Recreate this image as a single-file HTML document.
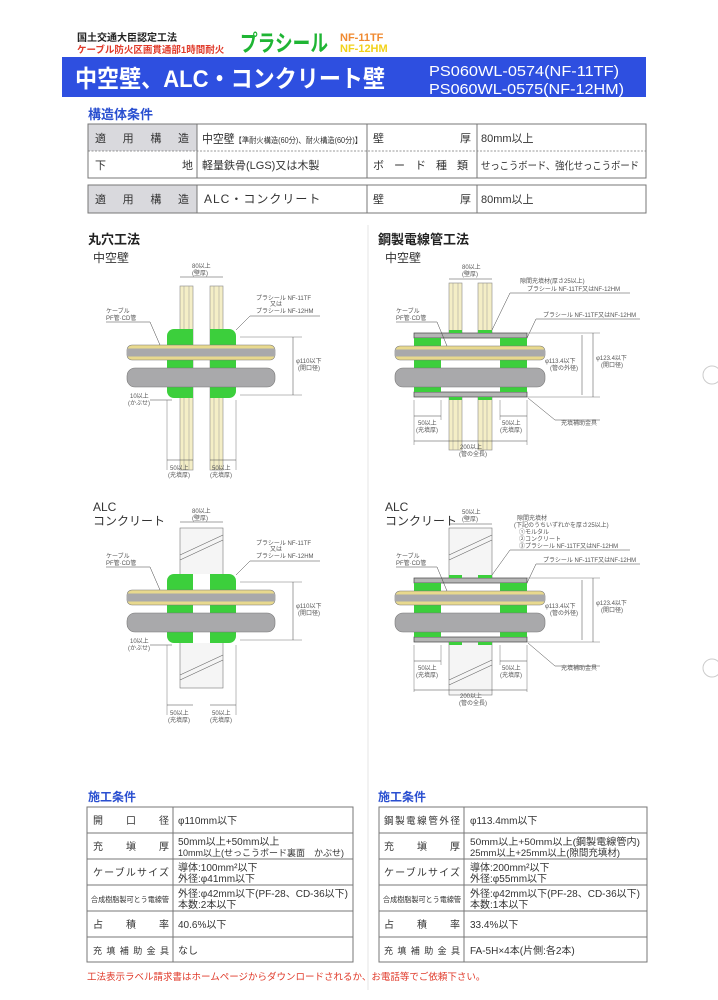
<!DOCTYPE html>
<html><head><meta charset="utf-8"><style>
html,body{margin:0;padding:0;background:#fff;}
svg{display:block;}
text{font-family:"Liberation Sans","Noto Sans CJK JP",sans-serif;}
</style></head><body>
<svg width="718" height="1000" viewBox="0 0 718 1000" xmlns="http://www.w3.org/2000/svg">
<defs>
<g id="roundCables">
  <rect x="127" y="345" width="148" height="15" rx="5" fill="#e8d98e" stroke="#777" stroke-width="0.6"/>
  <rect x="127" y="348.5" width="148" height="8" fill="#a9a9ab"/>
  <rect x="127" y="368" width="148" height="19" rx="8" fill="#a9a9ab" stroke="#777" stroke-width="0.6"/>
</g>
<g id="steelCables">
  <rect x="395" y="346" width="150" height="14" rx="5" fill="#e8d98e" stroke="#777" stroke-width="0.6"/>
  <rect x="395" y="349.5" width="150" height="7" fill="#a9a9ab"/>
  <rect x="395" y="368" width="150" height="19" rx="8" fill="#a9a9ab" stroke="#777" stroke-width="0.6"/>
</g>
<g id="steelPipe">
  <rect x="414" y="333" width="113" height="5" fill="#b5b5b5" stroke="#444" stroke-width="0.7"/>
  <rect x="414" y="392" width="113" height="5" fill="#b5b5b5" stroke="#444" stroke-width="0.7"/>
  <rect x="414" y="338" width="27" height="54" fill="#3ccf3c"/>
  <rect x="500" y="338" width="27" height="54" fill="#3ccf3c"/>
  <rect x="449" y="330" width="13" height="3" fill="#3ccf3c"/>
  <rect x="478" y="330" width="14" height="3" fill="#3ccf3c"/>
  <rect x="449" y="397" width="13" height="3" fill="#3ccf3c"/>
  <rect x="478" y="397" width="14" height="3" fill="#3ccf3c"/>
</g>
</defs>

<!-- Header -->
<text x="77" y="41" font-size="10" font-weight="bold" fill="#222">国土交通大臣認定工法</text>
<text x="77" y="53" font-size="9.5" font-weight="bold" fill="#e03a2a">ケーブル防火区画貫通部1時間耐火</text>
<text x="240" y="51" font-size="23" font-weight="bold" fill="#1fb534" textLength="88" lengthAdjust="spacingAndGlyphs">プラシール</text>
<text x="340" y="41" font-size="11" font-weight="bold" fill="#f08a30">NF-11TF</text>
<text x="340" y="52" font-size="11" font-weight="bold" fill="#f2d21a">NF-12HM</text>

<rect x="62" y="57" width="584" height="40" fill="#2e4fe0"/>
<text x="75" y="87" font-size="24" font-weight="bold" fill="#fff" textLength="310" lengthAdjust="spacingAndGlyphs">中空壁、ALC・コンクリート壁</text>
<text x="429" y="76" font-size="15" fill="#fff" textLength="190" lengthAdjust="spacingAndGlyphs">PS060WL-0574(NF-11TF)</text>
<text x="429" y="94" font-size="15" fill="#fff" textLength="195" lengthAdjust="spacingAndGlyphs">PS060WL-0575(NF-12HM)</text>

<text x="88" y="119" font-size="13" font-weight="bold" fill="#2a4fd0">構造体条件</text>

<!-- Table 1 -->
<rect x="88" y="124" width="109" height="27" fill="#d9d9dd"/>
<rect x="88" y="124" width="558" height="54" fill="none" stroke="#777" stroke-width="1"/>
<line x1="88" y1="151" x2="646" y2="151" stroke="#777" stroke-dasharray="2,1.5" stroke-width="0.8"/>
<line x1="197" y1="124" x2="197" y2="178" stroke="#777"/>
<line x1="367" y1="124" x2="367" y2="178" stroke="#777"/>
<line x1="477" y1="124" x2="477" y2="178" stroke="#777"/>
<text x="95" y="142" font-size="11" fill="#333" textLength="94" lengthAdjust="spacing">適　用　構　造</text>
<text x="202" y="143" font-size="12" fill="#333" textLength="160" lengthAdjust="spacingAndGlyphs">中空壁<tspan font-size="8">【準耐火構造(60分)、耐火構造(60分)】</tspan></text>
<text x="373" y="142" font-size="11" fill="#333">壁</text>
<text x="460" y="142" font-size="11" fill="#333">厚</text>
<text x="481" y="142" font-size="11" fill="#333">80mm以上</text>
<text x="95" y="169" font-size="11" fill="#333">下</text>
<text x="182" y="169" font-size="11" fill="#333">地</text>
<text x="202" y="169" font-size="11" fill="#333">軽量鉄骨(LGS)又は木製</text>
<text x="373" y="169" font-size="11" fill="#333" textLength="95" lengthAdjust="spacing">ボ ー ド 種 類</text>
<text x="481" y="169" font-size="10.5" fill="#333" textLength="158" lengthAdjust="spacingAndGlyphs">せっこうボード、強化せっこうボード</text>

<rect x="88" y="185" width="109" height="28" fill="#d9d9dd"/>
<rect x="88" y="185" width="558" height="28" fill="none" stroke="#777"/>
<line x1="197" y1="185" x2="197" y2="213" stroke="#777"/>
<line x1="367" y1="185" x2="367" y2="213" stroke="#777"/>
<line x1="477" y1="185" x2="477" y2="213" stroke="#777"/>
<text x="95" y="203" font-size="11" fill="#333" textLength="94" lengthAdjust="spacing">適　用　構　造</text>
<text x="204" y="203" font-size="12" fill="#333" letter-spacing="1">ALC・コンクリート</text>
<text x="373" y="203" font-size="11" fill="#333">壁</text>
<text x="460" y="203" font-size="11" fill="#333">厚</text>
<text x="481" y="203" font-size="11" fill="#333">80mm以上</text>

<line x1="368" y1="225" x2="368" y2="990" stroke="#e6e6e6" stroke-width="1"/>

<text x="88" y="244" font-size="13" font-weight="bold" fill="#222">丸穴工法</text>
<text x="378" y="244" font-size="13" font-weight="bold" fill="#222">鋼製電線管工法</text>

<!-- ===== Diagram 1 ===== -->
<text x="93" y="262" font-size="12" fill="#333">中空壁</text>
<g>
  <rect x="180" y="286" width="13" height="184" fill="#f4eec6" stroke="#888" stroke-width="0.6"/>
  <line x1="184" y1="286" x2="184" y2="470" stroke="#999" stroke-width="0.5"/>
  <line x1="189" y1="286" x2="189" y2="470" stroke="#999" stroke-width="0.5"/>
  <rect x="210" y="286" width="13" height="184" fill="#f4eec6" stroke="#888" stroke-width="0.6"/>
  <line x1="214" y1="286" x2="214" y2="470" stroke="#999" stroke-width="0.5"/>
  <line x1="219" y1="286" x2="219" y2="470" stroke="#999" stroke-width="0.5"/>
  <rect x="167" y="329" width="26" height="69" rx="7" fill="#3ccf3c"/>
  <rect x="210" y="329" width="26" height="69" rx="7" fill="#3ccf3c"/>
  <rect x="181" y="329" width="12" height="69" fill="#3ccf3c"/>
  <rect x="210" y="329" width="12" height="69" fill="#3ccf3c"/>
  <use href="#roundCables"/>
</g>
<g font-size="6" fill="#555" stroke-width="0.5">
  <line x1="180" y1="277" x2="223" y2="277" stroke="#444"/>
  <text x="192" y="268">80以上</text><text x="192" y="275">(壁厚)</text>
  <text x="256" y="300">プラシール NF-11TF</text><text x="270" y="306">又は</text><text x="256" y="313">プラシール NF-12HM</text>
  <line x1="236" y1="330" x2="250" y2="316" stroke="#444"/><line x1="250" y1="316" x2="320" y2="316" stroke="#444"/>
  <text x="106" y="313">ケーブル</text><text x="106" y="320">PF管·CD管</text>
  <line x1="106" y1="322" x2="150" y2="322" stroke="#444"/><line x1="150" y1="322" x2="160" y2="345" stroke="#444"/>
  <line x1="240" y1="337" x2="302" y2="337" stroke="#777"/><line x1="240" y1="395" x2="302" y2="395" stroke="#777"/>
  <line x1="293" y1="337" x2="293" y2="395" stroke="#444"/>
  <text x="296" y="363">φ110以下</text><text x="298" y="370">(開口径)</text>
  <text x="130" y="398">10以上</text><text x="128" y="405">(かぶせ)</text>
  <line x1="150" y1="400" x2="172" y2="400" stroke="#444"/>
  <line x1="167" y1="400" x2="167" y2="470" stroke="#777"/><line x1="236" y1="400" x2="236" y2="470" stroke="#777"/>
  <line x1="167" y1="460" x2="193" y2="460" stroke="#444"/><line x1="210" y1="460" x2="236" y2="460" stroke="#444"/>
  <text x="170" y="470">50以上</text><text x="168" y="477">(充填厚)</text>
  <text x="212" y="470">50以上</text><text x="210" y="477">(充填厚)</text>
</g>

<!-- ===== Diagram 2 ===== -->
<text x="93" y="511" font-size="12" fill="#333">ALC</text>
<text x="93" y="525" font-size="12" fill="#333">コンクリート</text>
<g>
  <rect x="180" y="528" width="43" height="160" fill="#f5f5f5" stroke="#777" stroke-width="0.6"/>
  <line x1="180" y1="555" x2="223" y2="535" stroke="#666" stroke-width="0.6"/>
  <line x1="180" y1="560" x2="223" y2="540" stroke="#666" stroke-width="0.6"/>
  <line x1="180" y1="675" x2="223" y2="655" stroke="#666" stroke-width="0.6"/>
  <line x1="180" y1="680" x2="223" y2="660" stroke="#666" stroke-width="0.6"/>
  <rect x="193" y="574" width="17" height="69" fill="#fff"/>
  <rect x="167" y="574" width="26" height="69" rx="7" fill="#3ccf3c"/>
  <rect x="210" y="574" width="26" height="69" rx="7" fill="#3ccf3c"/>
  <rect x="181" y="574" width="12" height="69" fill="#3ccf3c"/>
  <rect x="210" y="574" width="12" height="69" fill="#3ccf3c"/>
  <use href="#roundCables" transform="translate(0,245)"/>
</g>
<g font-size="6" fill="#555" stroke-width="0.5">
  <line x1="180" y1="522" x2="223" y2="522" stroke="#444"/>
  <text x="192" y="513">80以上</text><text x="192" y="520">(壁厚)</text>
  <text x="256" y="545">プラシール NF-11TF</text><text x="270" y="551">又は</text><text x="256" y="558">プラシール NF-12HM</text>
  <line x1="236" y1="575" x2="250" y2="561" stroke="#444"/><line x1="250" y1="561" x2="320" y2="561" stroke="#444"/>
  <text x="106" y="558">ケーブル</text><text x="106" y="565">PF管·CD管</text>
  <line x1="106" y1="567" x2="150" y2="567" stroke="#444"/><line x1="150" y1="567" x2="160" y2="590" stroke="#444"/>
  <line x1="240" y1="582" x2="302" y2="582" stroke="#777"/><line x1="240" y1="640" x2="302" y2="640" stroke="#777"/>
  <line x1="293" y1="582" x2="293" y2="640" stroke="#444"/>
  <text x="296" y="608">φ110以下</text><text x="298" y="615">(開口径)</text>
  <text x="130" y="643">10以上</text><text x="128" y="650">(かぶせ)</text>
  <line x1="150" y1="645" x2="172" y2="645" stroke="#444"/>
  <line x1="167" y1="645" x2="167" y2="715" stroke="#777"/><line x1="236" y1="645" x2="236" y2="715" stroke="#777"/>
  <line x1="167" y1="705" x2="193" y2="705" stroke="#444"/><line x1="210" y1="705" x2="236" y2="705" stroke="#444"/>
  <text x="170" y="715">50以上</text><text x="168" y="722">(充填厚)</text>
  <text x="212" y="715">50以上</text><text x="210" y="722">(充填厚)</text>
</g>

<!-- ===== Diagram 3 ===== -->
<text x="385" y="262" font-size="12" fill="#333">中空壁</text>
<g>
  <rect x="449" y="283" width="13" height="167" fill="#f4eec6" stroke="#888" stroke-width="0.6"/>
  <line x1="453" y1="283" x2="453" y2="450" stroke="#999" stroke-width="0.5"/>
  <line x1="458" y1="283" x2="458" y2="450" stroke="#999" stroke-width="0.5"/>
  <rect x="478" y="283" width="14" height="167" fill="#f4eec6" stroke="#888" stroke-width="0.6"/>
  <line x1="483" y1="283" x2="483" y2="450" stroke="#999" stroke-width="0.5"/>
  <line x1="487" y1="283" x2="487" y2="450" stroke="#999" stroke-width="0.5"/>
  <rect x="441" y="333" width="59" height="64" fill="#fff"/>
  <use href="#steelPipe"/>
  <use href="#steelCables"/>
</g>
<g font-size="6" fill="#555" stroke-width="0.5">
  <line x1="449" y1="279" x2="492" y2="279" stroke="#444"/>
  <text x="462" y="269">80以上</text><text x="462" y="276">(壁厚)</text>
  <text x="520" y="283">隙間充填材(厚さ25以上)</text>
  <text x="527" y="291">プラシール NF-11TF又はNF-12HM</text>
  <line x1="492" y1="330" x2="510" y2="293" stroke="#444"/><line x1="510" y1="293" x2="630" y2="293" stroke="#444"/>
  <text x="543" y="317">プラシール NF-11TF又はNF-12HM</text>
  <line x1="527" y1="338" x2="536" y2="319" stroke="#444"/><line x1="536" y1="319" x2="640" y2="319" stroke="#444"/>
  <text x="396" y="313">ケーブル</text><text x="396" y="320">PF管·CD管</text>
  <line x1="396" y1="322" x2="437" y2="322" stroke="#444"/><line x1="437" y1="322" x2="447" y2="346" stroke="#444"/>
  <line x1="527" y1="333" x2="600" y2="333" stroke="#777"/><line x1="527" y1="397" x2="600" y2="397" stroke="#777"/>
  <line x1="582" y1="335" x2="582" y2="395" stroke="#444"/><line x1="593" y1="333" x2="593" y2="397" stroke="#444"/>
  <text x="545" y="363">φ113.4以下</text><text x="550" y="370">(管の外径)</text>
  <text x="596" y="360">φ123.4以下</text><text x="601" y="367">(開口径)</text>
  <line x1="528" y1="398" x2="555" y2="420" stroke="#444"/><line x1="555" y1="420" x2="600" y2="420" stroke="#444"/>
  <text x="561" y="425">充填補助金具</text>
  <line x1="414" y1="400" x2="414" y2="445" stroke="#777"/><line x1="527" y1="400" x2="527" y2="445" stroke="#777"/>
  <line x1="441" y1="400" x2="441" y2="420" stroke="#777"/><line x1="500" y1="400" x2="500" y2="420" stroke="#777"/>
  <line x1="414" y1="416" x2="441" y2="416" stroke="#444"/><line x1="500" y1="416" x2="527" y2="416" stroke="#444"/>
  <text x="418" y="425">50以上</text><text x="416" y="432">(充填厚)</text>
  <text x="502" y="425">50以上</text><text x="500" y="432">(充填厚)</text>
  <line x1="414" y1="441" x2="527" y2="441" stroke="#444"/>
  <text x="460" y="449">200以上</text><text x="459" y="456">(管の全長)</text>
</g>

<!-- ===== Diagram 4 ===== -->
<text x="385" y="511" font-size="12" fill="#333">ALC</text>
<text x="385" y="525" font-size="12" fill="#333">コンクリート</text>
<g>
  <rect x="449" y="528" width="43" height="167" fill="#f5f5f5" stroke="#777" stroke-width="0.6"/>
  <line x1="449" y1="555" x2="492" y2="535" stroke="#666" stroke-width="0.6"/>
  <line x1="449" y1="560" x2="492" y2="540" stroke="#666" stroke-width="0.6"/>
  <line x1="449" y1="680" x2="492" y2="660" stroke="#666" stroke-width="0.6"/>
  <line x1="449" y1="685" x2="492" y2="665" stroke="#666" stroke-width="0.6"/>
  <rect x="441" y="578" width="59" height="64" fill="#fff"/>
  <use href="#steelPipe" transform="translate(0,245)"/>
  <use href="#steelCables" transform="translate(0,245)"/>
</g>
<g font-size="6" fill="#555" stroke-width="0.5">
  <line x1="449" y1="524" x2="492" y2="524" stroke="#444"/>
  <text x="462" y="514">50以上</text><text x="462" y="521">(壁厚)</text>
  <text x="517" y="520">隙間充填材</text>
  <text x="514" y="527">(下記のうちいずれかを厚さ25以上)</text>
  <text x="519" y="534">①モルタル</text>
  <text x="519" y="541">②コンクリート</text>
  <text x="519" y="548">③プラシール NF-11TF又はNF-12HM</text>
  <line x1="492" y1="575" x2="510" y2="550" stroke="#444"/><line x1="510" y1="550" x2="630" y2="550" stroke="#444"/>
  <text x="543" y="562">プラシール NF-11TF又はNF-12HM</text>
  <line x1="527" y1="583" x2="536" y2="564" stroke="#444"/><line x1="536" y1="564" x2="640" y2="564" stroke="#444"/>
  <text x="396" y="558">ケーブル</text><text x="396" y="565">PF管·CD管</text>
  <line x1="396" y1="567" x2="437" y2="567" stroke="#444"/><line x1="437" y1="567" x2="447" y2="591" stroke="#444"/>
  <line x1="527" y1="578" x2="600" y2="578" stroke="#777"/><line x1="527" y1="642" x2="600" y2="642" stroke="#777"/>
  <line x1="582" y1="580" x2="582" y2="640" stroke="#444"/><line x1="593" y1="578" x2="593" y2="642" stroke="#444"/>
  <text x="545" y="608">φ113.4以下</text><text x="550" y="615">(管の外径)</text>
  <text x="596" y="605">φ123.4以下</text><text x="601" y="612">(開口径)</text>
  <line x1="528" y1="643" x2="555" y2="666" stroke="#444"/><line x1="555" y1="666" x2="600" y2="666" stroke="#444"/>
  <text x="561" y="670">充填補助金具</text>
  <line x1="414" y1="645" x2="414" y2="692" stroke="#777"/><line x1="527" y1="645" x2="527" y2="692" stroke="#777"/>
  <line x1="441" y1="645" x2="441" y2="665" stroke="#777"/><line x1="500" y1="645" x2="500" y2="665" stroke="#777"/>
  <line x1="414" y1="661" x2="441" y2="661" stroke="#444"/><line x1="500" y1="661" x2="527" y2="661" stroke="#444"/>
  <text x="418" y="670">50以上</text><text x="416" y="677">(充填厚)</text>
  <text x="502" y="670">50以上</text><text x="500" y="677">(充填厚)</text>
  <line x1="414" y1="690" x2="527" y2="690" stroke="#444"/>
  <text x="460" y="698">200以上</text><text x="459" y="705">(管の全長)</text>
</g>

<circle cx="712" cy="375" r="9" fill="none" stroke="#ccc"/>
<circle cx="712" cy="668" r="9" fill="none" stroke="#ccc"/>

<text x="88" y="801" font-size="12" font-weight="bold" fill="#2a4fd0">施工条件</text>
<text x="378" y="801" font-size="12" font-weight="bold" fill="#2a4fd0">施工条件</text>

<g stroke="#777" stroke-width="1" fill="none">
  <rect x="87" y="807" width="266" height="155"/>
  <line x1="173" y1="807" x2="173" y2="962"/>
  <line x1="87" y1="833" x2="353" y2="833"/><line x1="87" y1="859" x2="353" y2="859"/>
  <line x1="87" y1="885" x2="353" y2="885"/><line x1="87" y1="911" x2="353" y2="911"/>
  <line x1="87" y1="937" x2="353" y2="937"/>
  <rect x="379" y="807" width="268" height="155"/>
  <line x1="464" y1="807" x2="464" y2="962"/>
  <line x1="379" y1="833" x2="647" y2="833"/><line x1="379" y1="859" x2="647" y2="859"/>
  <line x1="379" y1="885" x2="647" y2="885"/><line x1="379" y1="911" x2="647" y2="911"/>
  <line x1="379" y1="937" x2="647" y2="937"/>
</g>
<g font-size="10" fill="#333">
  <text x="93" y="824" textLength="76" lengthAdjust="spacing">開　　口　　径</text>
  <text x="178" y="824">φ110mm以下</text>
  <text x="93" y="850" textLength="76" lengthAdjust="spacing">充　　塡　　厚</text>
  <text x="178" y="845">50mm以上+50mm以上</text>
  <text x="178" y="856" font-size="9">10mm以上(せっこうボード裏面　かぶせ)</text>
  <text x="93" y="876" textLength="76" lengthAdjust="spacing">ケーブルサイズ</text>
  <text x="178" y="871">導体:100mm²以下</text>
  <text x="178" y="882">外径:φ41mm以下</text>
  <text x="91" y="902" font-size="7.5" textLength="78" lengthAdjust="spacingAndGlyphs">合成樹脂製可とう電線管</text>
  <text x="178" y="897" textLength="170" lengthAdjust="spacingAndGlyphs">外径:φ42mm以下(PF-28、CD-36以下)</text>
  <text x="178" y="908">本数:2本以下</text>
  <text x="93" y="928" textLength="76" lengthAdjust="spacing">占　　積　　率</text>
  <text x="178" y="928">40.6%以下</text>
  <text x="93" y="954" font-size="9" textLength="76" lengthAdjust="spacing">充填補助金具</text>
  <text x="178" y="954">なし</text>

  <text x="384" y="824" font-size="9.5" textLength="76" lengthAdjust="spacing">鋼製電線管外径</text>
  <text x="470" y="824">φ113.4mm以下</text>
  <text x="384" y="850" textLength="76" lengthAdjust="spacing">充　　塡　　厚</text>
  <text x="470" y="845" font-size="9.5" textLength="170" lengthAdjust="spacingAndGlyphs">50mm以上+50mm以上(鋼製電線管内)</text>
  <text x="470" y="856" font-size="9.5" textLength="150" lengthAdjust="spacingAndGlyphs">25mm以上+25mm以上(隙間充填材)</text>
  <text x="384" y="876" textLength="76" lengthAdjust="spacing">ケーブルサイズ</text>
  <text x="470" y="871">導体:200mm²以下</text>
  <text x="470" y="882">外径:φ55mm以下</text>
  <text x="383" y="902" font-size="7.5" textLength="78" lengthAdjust="spacingAndGlyphs">合成樹脂製可とう電線管</text>
  <text x="470" y="897" textLength="170" lengthAdjust="spacingAndGlyphs">外径:φ42mm以下(PF-28、CD-36以下)</text>
  <text x="470" y="908">本数:1本以下</text>
  <text x="384" y="928" textLength="76" lengthAdjust="spacing">占　　積　　率</text>
  <text x="470" y="928">33.4%以下</text>
  <text x="384" y="954" font-size="9" textLength="76" lengthAdjust="spacing">充填補助金具</text>
  <text x="470" y="954">FA-5H×4本(片側:各2本)</text>
</g>

<text x="87" y="980" font-size="9.5" fill="#e03a2a">工法表示ラベル請求書はホームページからダウンロードされるか、お電話等でご依頼下さい。</text>
</svg>
</body></html>
